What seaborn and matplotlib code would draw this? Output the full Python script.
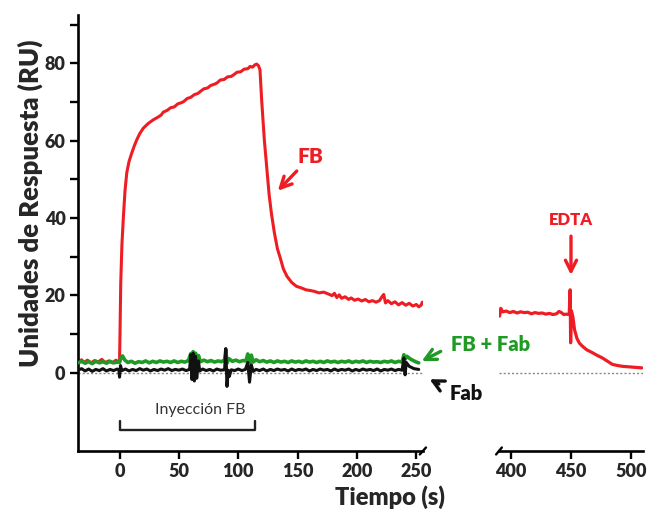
import numpy as np
import pandas as pd
import matplotlib
matplotlib.use("Agg")
import matplotlib.pyplot as plt
import seaborn as sns

# ---- data -------------------------------------------------------------
# FB response, association/dissociation window (s, RU)
fb_t = [-35, -32, -30, -27, -24, -21, -18, -15, -12, -9, -6, -3, -1, 0,
        0.4, 1.0, 2.0, 3.2, 4.6, 6.1, 8, 10.3, 12.5, 14.5, 17, 20, 24, 28.5,
        32, 35, 37, 40, 43, 46, 49, 52, 54, 57, 60, 63, 66, 68, 71, 74, 77,
        80, 82, 85, 88, 91, 94, 96, 99, 102, 105, 108, 110, 112, 114, 115.5,
        117, 118.3, 119.7, 122, 124, 126, 128, 130.5, 133, 135.5, 138, 141,
        145, 149, 153, 157, 161, 164, 168, 172, 176, 179, 181, 183, 185, 187,
        190, 193, 195, 198, 201, 204, 207, 210, 213, 216, 219, 221, 222.5,
        224, 226, 229, 232, 235, 238, 241, 244, 247, 250, 252, 254, 255]
fb_v = [2.7, 3.3, 2.6, 3.2, 2.5, 3.1, 2.7, 3.4, 2.6, 3.0, 2.5, 3.2, 2.7, 2.9,
        10, 23, 33, 40, 47, 51.7, 54.6, 56.8, 58.7, 60.2, 61.8, 63.2, 64.4, 65.4,
        66.0, 66.6, 67.4, 67.8, 68.5, 68.7, 69.5, 69.8, 70.1, 70.9, 71.2, 71.9,
        72.2, 72.7, 73.4, 73.6, 74.3, 74.6, 74.9, 75.7, 75.8, 76.5, 76.6, 77.0,
        77.7, 77.8, 78.5, 78.6, 79.2, 79.0, 79.6, 79.8, 79.4, 78.3, 70.5, 60,
        53, 46, 41, 36, 32, 29.5, 26.8, 24.9, 23.3, 22.3, 21.9, 21.4, 21.2,
        21.0, 20.6, 20.8, 20.3, 19.9, 20.5, 19.4, 20.1, 19.2, 19.6, 18.9, 19.3,
        18.7, 19.0, 18.5, 18.9, 18.3, 18.6, 18.2, 18.6, 19.6, 20.2, 18.0, 18.6,
        17.8, 18.3, 17.5, 18.1, 17.4, 17.9, 17.2, 17.6, 17.0, 17.4, 18.2]

# FB response, EDTA regeneration window
edta_t = [390.5, 391.5, 393, 396, 399, 402, 405, 408, 411, 414, 417, 420,
          423, 426, 429, 432, 435, 438, 440, 442, 444, 446, 448.5, 449.3,
          449.7, 450.3, 451.5, 453, 455, 457, 459.5, 463, 468, 472, 476, 480,
          484.5, 489, 493, 497, 501, 505, 509]
edta_v = [14.6, 16.6, 15.7, 15.9, 15.5, 15.8, 15.4, 15.7, 15.5, 15.6, 15.2,
          15.5, 15.3, 15.4, 15.1, 15.3, 15.0, 15.2, 15.8, 15.5, 15.0, 15.1,
          15.0, 21.4, 7.7, 16.0, 14.5, 11.0, 8.8, 7.6, 6.8, 5.9, 5.1, 4.4,
          3.8, 3.0, 2.1, 1.8, 1.6, 1.5, 1.4, 1.3, 1.2]

# FB + Fab response
fbfab_t = [-35, -32, -29, -26, -23, -20, -17, -14, -11, -8, -5, -2, 0, 1,
           2.5, 4.5, 7, 10, 13, 16, 19, 22, 25, 28, 31, 34, 37, 40, 43, 46,
           49, 52, 55, 58, 60, 61, 62, 63, 64, 65, 66.5, 68, 71, 74, 77, 80,
           83, 86, 88.5, 89.5, 90.5, 92, 95, 98, 101, 104, 106.5, 108, 109.5,
           111, 112.5, 115, 118, 121, 124, 127, 130, 133, 136, 139, 142, 145,
           148, 151, 154, 157, 160, 163, 166, 169, 172, 175, 178, 181, 184,
           187, 190, 193, 196, 199, 202, 205, 208, 211, 214, 217, 220, 223,
           226, 229, 232, 235, 238, 239.5, 240.5, 242, 245, 248, 250, 252]
fbfab_v = [2.5, 2.9, 2.4, 2.8, 2.3, 2.9, 2.5, 2.8, 2.4, 2.9, 2.5, 2.7, 2.6,
           3.6, 4.3, 3.2, 2.6, 2.9, 2.4, 2.8, 2.6, 3.0, 2.5, 2.9, 2.6, 3.0,
           2.7, 2.9, 2.6, 3.0, 2.6, 2.9, 2.7, 3.1, 4.9, 2.1, 5.4, 1.9, 5.0,
           2.3, 4.4, 2.8, 3.2, 2.8, 3.1, 2.7, 3.0, 2.8, 3.3, 5.8, 2.4, 3.6,
           2.9, 3.2, 2.8, 3.1, 3.0, 4.8, 2.6, 4.5, 2.7, 3.3, 2.8, 3.1, 2.7,
           3.0, 2.6, 3.0, 2.7, 2.9, 2.6, 3.0, 2.7, 2.9, 2.6, 3.0, 2.7, 2.9,
           2.6, 2.9, 2.6, 3.0, 2.7, 2.9, 2.6, 2.9, 2.7, 3.0, 2.6, 2.9, 2.7,
           3.0, 2.6, 2.9, 2.7, 2.8, 2.6, 2.9, 2.7, 3.0, 2.6, 2.9, 2.7, 4.6,
           3.4, 4.2, 3.5, 3.0, 2.7, 2.5]

# Fab response
fab_t = [-35, -32, -29, -26, -23, -20, -17, -14, -11, -8, -5, -2, -0.5, 0,
         0.8, 2, 5, 8, 11, 14, 17, 20, 23, 26, 29, 32, 35, 38, 41, 44, 47,
         50, 53, 56, 59, 60, 61, 62, 63, 64, 65, 66.5, 67.5, 70, 73, 76, 79,
         82, 85, 88.5, 89.5, 90.5, 91.5, 92.5, 94, 97, 100, 103, 106, 108,
         109.5, 111, 112.5, 115, 118, 121, 124, 127, 130, 133, 136, 139, 142,
         145, 148, 151, 154, 157, 160, 163, 166, 169, 172, 175, 178, 181, 184,
         187, 190, 193, 196, 199, 202, 205, 208, 211, 214, 217, 220, 223, 226,
         229, 232, 235, 238, 239.5, 240.5, 241.5, 244, 248, 252]
fab_v = [0.6, 1.0, 0.4, 0.9, 0.3, 0.8, 0.5, 1.0, 0.4, 0.8, 0.5, 0.9, 0.6,
         -1.2, 1.8, 0.5, 0.9, 0.4, 0.8, 0.5, 1.0, 0.6, 0.9, 0.4, 0.8, 0.5,
         0.9, 0.6, 1.0, 0.5, 0.8, 0.6, 0.9, 0.5, 0.8, 4.6, -1.8, 5.0, -2.2,
         4.2, -1.5, 3.0, 0.4, 0.9, 0.5, 0.8, 0.4, 0.9, 0.6, 0.7, 6.2, -3.6,
         0.6, -1.0, 0.7, 0.5, 0.9, 0.5, 0.8, 2.6, -2.5, 2.0, 0.3, 0.8, 0.5,
         0.9, 0.4, 0.8, 0.5, 0.9, 0.6, 0.8, 0.4, 0.9, 0.5, 0.8, 0.6, 0.9,
         0.4, 0.8, 0.5, 0.9, 0.6, 0.8, 0.4, 0.9, 0.5, 0.8, 0.6, 0.9, 0.4,
         0.8, 0.5, 0.9, 0.6, 0.8, 0.5, 0.9, 0.4, 0.8, 0.6, 0.9, 0.5, 0.8,
         0.6, 3.8, -0.6, 2.6, 1.6, 1.0, 0.8]

left_xticks = [0, 50, 100, 150, 200, 250]
right_xticks = [400, 450, 500]
yticks = [0, 20, 40, 60, 80]
yminor = [10, 30, 50, 70, 90]
injection = (0, 114)

# ---- style ------------------------------------------------------------
sns.set_style("ticks")
plt.rcParams["font.family"] = ["Lato", "DejaVu Sans"]
RED = "#ee1d23"
GREEN = "#1f9a25"
BLACK = "#111111"
TICKFONT = dict(fontsize=13, fontweight="heavy")

fig = plt.figure(figsize=(6.52, 5.17), dpi=100)
ax1 = fig.add_axes([0.1196, 0.1277, 0.529, 0.8433])
ax2 = fig.add_axes([0.7653, 0.1277, 0.2209, 0.8433], sharey=ax1)
# keep the left panel (and its side labels) above the right one
ax1.set_zorder(3)
ax1.patch.set_alpha(0)
ax2.patch.set_alpha(0)

ylim = (-20.3, 92.5)

# left panel
ax1.axhline(0, color="#888888", lw=1.0, ls=(0, (1.5, 1.5)), zorder=1)
sns.lineplot(x=fb_t, y=fb_v, ax=ax1, color=RED, lw=2.2, estimator=None, sort=False, zorder=2)
sns.lineplot(x=fbfab_t, y=fbfab_v, ax=ax1, color=GREEN, lw=2.6, estimator=None, sort=False, zorder=3)
sns.lineplot(x=fab_t, y=fab_v, ax=ax1, color=BLACK, lw=2.2, estimator=None, sort=False, zorder=4)
ax1.set_xlim(-35, 255.5)
ax1.set_ylim(*ylim)

# right panel
ax2.axhline(0, color="#888888", lw=1.0, ls=(0, (1.5, 1.5)), zorder=1)
sns.lineplot(x=edta_t, y=edta_v, ax=ax2, color=RED, lw=2.3, estimator=None, sort=False, zorder=2)
ax2.set_xlim(390, 510)

for ax in (ax1, ax2):
    ax.set_xlabel("")
    ax.set_ylabel("")
    for s in ("top", "right"):
        ax.spines[s].set_visible(False)
    for s in ("left", "bottom"):
        ax.spines[s].set_linewidth(1.9)
        ax.spines[s].set_color("black")
    ax.tick_params(axis="both", which="both", width=1.7, length=6, color="black", pad=3)

ax1.set_xticks(left_xticks)
ax1.set_yticks(yticks)
ax1.set_yticks(yminor, minor=True)
ax1.set_xticklabels([str(v) for v in left_xticks], **TICKFONT)
ax1.set_yticklabels([str(v) for v in yticks], **TICKFONT)

ax2.set_xticks(right_xticks)
ax2.set_xticklabels([str(v) for v in right_xticks], **TICKFONT)
ax2.spines["left"].set_visible(False)
ax2.tick_params(axis="y", which="both", left=False, labelleft=False)

# axis-break marks
d = 0.009
ax1.plot([1 - d, 1 + d], [-0.008, 0.008], transform=ax1.transAxes, color="black",
         lw=1.7, clip_on=False)
d2 = 0.02
ax2.plot([-d2, d2], [-0.008, 0.008], transform=ax2.transAxes, color="black",
         lw=1.7, clip_on=False)

# injection bracket
bx = [injection[0], injection[0], injection[1], injection[1]]
by = [-12.6, -14.9, -14.9, -12.6]
ax1.plot(bx, by, color="#222222", lw=1.7)
ax1.text(68, -11.4, "Inyección FB", ha="center", va="bottom", fontsize=11.5, color="#333333")

# annotations
arrow = dict(arrowstyle="->", lw=2.4, mutation_scale=20)
ax1.annotate("FB", xy=(131.7, 46.5), xytext=(150.3, 53.5), color=RED,
             fontsize=15, fontweight="heavy", ha="left", va="bottom",
             arrowprops=dict(arrow, color=RED), annotation_clip=False)
ax1.annotate("", xy=(252.4, 2.6), xytext=(272.6, 5.8),
             arrowprops=dict(arrow, color=GREEN), annotation_clip=False)
ax1.text(279.5, 7.2, "FB + Fab", color=GREEN, fontsize=14.5, fontweight="heavy",
         ha="left", va="center", clip_on=False, zorder=10)
ax1.annotate("", xy=(259, -1.4), xytext=(271, -3.3),
             arrowprops=dict(arrow, color=BLACK), annotation_clip=False)
ax1.text(278, -5.4, "Fab", color=BLACK, fontsize=14.5, fontweight="heavy",
         ha="left", va="center", clip_on=False, zorder=10)
ax2.annotate("", xy=(450, 24.5), xytext=(450, 36),
             arrowprops=dict(arrow, color=RED), annotation_clip=False)
ax2.text(450, 37.5, "EDTA", color=RED, fontsize=12, fontweight="heavy",
         ha="center", va="bottom")

fig.text(0.046, 0.607, "Unidades de Respuesta (RU)", rotation=90, ha="center",
         va="center", fontsize=18.5, fontweight="heavy")
fig.text(0.598, 0.039, "Tiempo (s)", ha="center", va="center", fontsize=17,
         fontweight="heavy")

fig.savefig("out.png", dpi=100, facecolor="white")
